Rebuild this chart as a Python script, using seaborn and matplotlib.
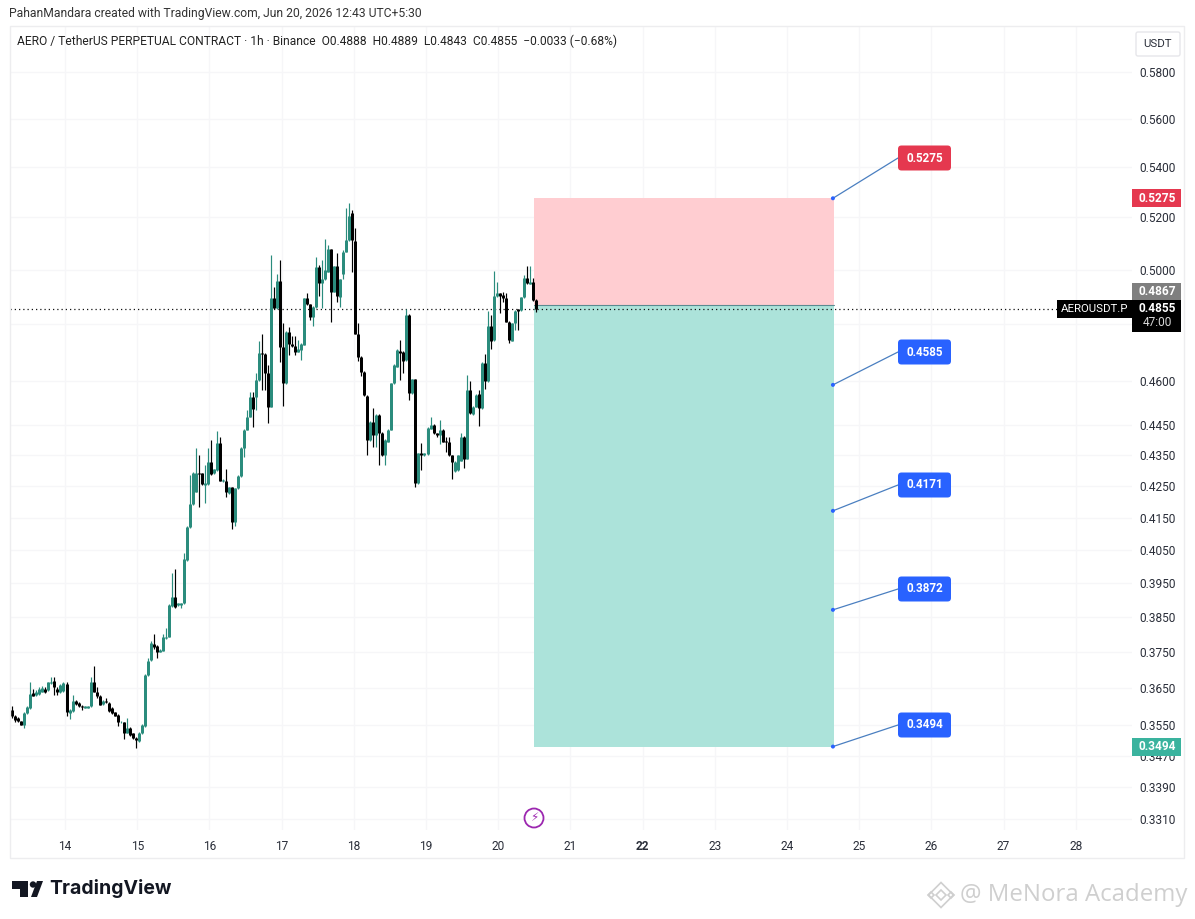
import numpy as np
import pandas as pd
import matplotlib
matplotlib.use("Agg")
import matplotlib.pyplot as plt
from matplotlib.patches import Rectangle, FancyBboxPatch, Circle, Polygon
from matplotlib.lines import Line2D
from matplotlib.transforms import IdentityTransform
import seaborn as sns

opens = [.3592,.3576,.3570,.3561,.3552,.3583,.3597,.3637,.3632,.3635,.3641,.3648,.3646,.3664,.3671,.3648,.3639,.3643,.3661,.3583,
.3588,.3617,.3610,.3603,.3598,.3598,.3601,.3668,.3641,.3630,.3608,.3617,.3610,.3597,.3585,.3579,.3558,.3558,.3531,.3543,
.3529,.3516,.3509,.3529,.3549,.3686,.3729,.3774,.3768,.3752,.3755,.3790,.3795,.3882,.3911,.3885,.3885,.3891,.4020,.4121,
.4192,.4232,.4292,.4290,.4253,.4256,.4328,.4290,.4301,.4388,.4264,.4267,.4226,.4245,.4137,.4242,.4280,.4371,.4433,.4477,
.4544,.4544,.4602,.4697,.4694,.4625,.4511,.4893,.4857,.4958,.4716,.4591,.4772,.4728,.4721,.4700,.4707,.4725,.4893,.4872,
.4826,.4860,.5008,.4949,.4963,.4992,.5076,.4918,.5013,.4897,.4985,.5067,.5112,.5216,.5110,.4764,.4682,.4631,.4547,.4399,
.4460,.4416,.4483,.4423,.4349,.4393,.4433,.4591,.4648,.4704,.4700,.4671,.4832,.4556,.4604,.4258,.4357,.4349,.4353,.4436,
.4450,.4421,.4416,.4433,.4397,.4393,.4349,.4298,.4301,.4331,.4410,.4338,.4568,.4486,.4511,.4553,.4505,.4662,.4597,.4792,
.4742,.4900,.4912,.4906,.4893,.4808,.4740,.4802,.4853,.4850,.4897,.4970,.4947,.4955,.4888]
highs = [.3601,.3578,.3572,.3563,.3585,.3601,.3668,.3648,.3645,.3655,.3657,.3655,.3669,.3682,.3682,.3655,.3662,.3668,.3668,.3594,
.3632,.3619,.3614,.3605,.3603,.3603,.3682,.3711,.3655,.3632,.3619,.3623,.3612,.3599,.3587,.3581,.3562,.3560,.3570,.3545,
.3531,.3518,.3533,.3554,.3690,.3735,.3781,.3802,.3770,.3759,.3802,.3819,.3890,.3980,.3992,.3893,.3893,.4040,.4125,.4285,
.4295,.4371,.4349,.4292,.4317,.4371,.4399,.4305,.4428,.4410,.4271,.4303,.4247,.4247,.4244,.4284,.4376,.4435,.4499,.4561,
.4561,.4625,.4740,.4764,.4697,.4654,.5055,.4936,.4985,.5036,.4804,.4774,.4788,.4757,.4757,.4742,.4730,.4895,.4912,.4874,
.4865,.5049,.5017,.5036,.5118,.5092,.5078,.5015,.5061,.4965,.5075,.5235,.5255,.5230,.5157,.4802,.4684,.4633,.4550,.4462,
.4505,.4485,.4485,.4425,.4401,.4435,.4593,.4656,.4709,.4742,.4702,.4853,.4834,.4606,.4606,.4357,.4388,.4357,.4441,.4477,
.4452,.4423,.4466,.4435,.4410,.4410,.4351,.4329,.4351,.4421,.4412,.4620,.4597,.4513,.4552,.4568,.4664,.4694,.4845,.4832,
.4995,.4955,.4914,.4915,.4912,.4810,.4804,.4850,.4855,.4899,.4979,.5013,.5013,.4967,.4889]
lows = [.3570,.3560,.3558,.3550,.3543,.3580,.3595,.3628,.3630,.3633,.3639,.3637,.3644,.3662,.3632,.3632,.3637,.3640,.3574,.3568,
.3586,.3606,.3599,.3592,.3596,.3596,.3599,.3639,.3623,.3604,.3606,.3610,.3586,.3581,.3574,.3549,.3556,.3513,.3529,.3523,
.3514,.3489,.3507,.3527,.3547,.3684,.3727,.3760,.3733,.3750,.3753,.3788,.3793,.3880,.3878,.3883,.3877,.3889,.4018,.4119,
.4190,.4230,.4182,.4254,.4195,.4254,.4286,.4288,.4299,.4265,.4262,.4216,.4224,.4116,.4124,.4240,.4278,.4344,.4431,.4475,
.4442,.4500,.4600,.4568,.4568,.4455,.4509,.4855,.4855,.4665,.4513,.4589,.4689,.4719,.4689,.4698,.4673,.4723,.4870,.4814,
.4792,.4858,.4900,.4857,.4961,.4990,.4808,.4916,.4881,.4863,.4965,.5065,.5110,.4992,.4762,.4669,.4614,.4548,.4349,.4397,
.4377,.4377,.4317,.4347,.4317,.4391,.4431,.4589,.4646,.4602,.4625,.4669,.4533,.4554,.4245,.4256,.4301,.4347,.4351,.4434,
.4419,.4410,.4385,.4391,.4360,.4347,.4271,.4296,.4299,.4329,.4306,.4336,.4486,.4484,.4509,.4444,.4503,.4570,.4595,.4709,
.4740,.4898,.4838,.4880,.4806,.4730,.4738,.4778,.4778,.4848,.4895,.4947,.4945,.4885,.4843]
closes = [.3574,.3565,.3561,.3552,.3583,.3599,.3635,.3630,.3641,.3648,.3650,.3641,.3667,.3668,.3655,.3639,.3660,.3664,.3585,.3592,
.3617,.3608,.3601,.3599,.3601,.3601,.3668,.3641,.3630,.3606,.3617,.3612,.3588,.3583,.3576,.3558,.3560,.3531,.3543,.3525,
.3516,.3511,.3531,.3552,.3686,.3727,.3777,.3764,.3752,.3757,.3795,.3795,.3886,.3911,.3880,.3891,.3891,.4022,.4121,.4192,
.4292,.4292,.4287,.4256,.4258,.4328,.4288,.4303,.4388,.4267,.4269,.4232,.4245,.4137,.4242,.4282,.4371,.4433,.4477,.4544,
.4501,.4602,.4697,.4694,.4625,.4511,.4893,.4857,.4958,.4716,.4591,.4772,.4728,.4721,.4700,.4709,.4728,.4893,.4872,.4826,
.4863,.5008,.4949,.4963,.4998,.5076,.4918,.5013,.4900,.4963,.5067,.5112,.5206,.5112,.4764,.4682,.4628,.4550,.4399,.4460,
.4416,.4483,.4423,.4349,.4399,.4433,.4591,.4654,.4707,.4697,.4669,.4832,.4556,.4604,.4258,.4355,.4349,.4355,.4439,.4450,
.4421,.4416,.4433,.4393,.4391,.4349,.4327,.4327,.4349,.4410,.4338,.4568,.4488,.4511,.4550,.4505,.4662,.4597,.4792,.4740,
.4900,.4912,.4902,.4893,.4808,.4742,.4802,.4848,.4848,.4897,.4967,.4949,.4955,.4887,.4855]

first_day = 20.5208 - 174 / 24          # day-of-month of the first hourly candle
hour = 1 / 24
day_ticks = list(range(14, 29))
price_ticks = [.58, .56, .54, .52, .50, .48, .46, .445, .435, .425, .415, .405, .395, .385, .375, .365, .355, .347, .339, .331]
price_labels = ["0.5800", "0.5600", "0.5400", "0.5200", "0.5000", "", "0.4600", "0.4450", "0.4350", "0.4250", "0.4150",
                "0.4050", "0.3950", "0.3850", "0.3750", "0.3650", "0.3550", "0.3470", "0.3390", "0.3310"]
entry_price = 0.4867
stop_price = 0.5275
final_target = 0.3494
last_close = 0.4855
box_start, box_end = 20.5, 24.65
callout_levels = [0.5275, 0.4585, 0.4171, 0.3872, 0.3494]
callout_texts = ["0.5275", "0.4585", "0.4171", "0.3872", "0.3494"]
callout_label_y = [158, 352, 485, 589, 725]
callout_colors = ["#E5384F", "#2962FF", "#2962FF", "#2962FF", "#2962FF"]

W, H = 1195, 919
TEAL, BLACK = "#2A8C7D", "#000000"
GRID = "#F6F6F8"
TXT = "#2a2e39"

sns.set_theme(style="white")
plt.rcParams["font.family"] = ["Roboto", "DejaVu Sans"]

fig = plt.figure(figsize=(W / 100, H / 100), dpi=100, facecolor="white")
L, R, T, B = 10, 1132, 26, 830
ax = fig.add_axes([L / W, 1 - B / H, (R - L) / W, (B - T) / H])
ax.set_yscale("log")

ids = np.arange(len(opens))
days = first_day + ids * hour
direction = np.where(np.array(closes) >= np.array(opens), "up", "down")
wicks = pd.DataFrame({
    "day": np.r_[days, days], "price": np.r_[lows, highs],
    "id": np.r_[ids, ids], "dir": np.r_[direction, direction]})
bodies = pd.DataFrame({
    "day": np.r_[days, days], "price": np.r_[opens, closes],
    "id": np.r_[ids, ids], "dir": np.r_[direction, direction]})
palette = {"up": TEAL, "down": BLACK}

# trade boxes
ax.fill_between([box_start, box_end], entry_price, stop_price, color="#FFCDD1", lw=0, zorder=1)
ax.fill_between([box_start, box_end], final_target, entry_price, color="#ACE3DA", lw=0, zorder=1)
ax.plot([box_start, box_end], [entry_price, entry_price], color="#5b8a90", lw=0.8, zorder=1.2)
ax.axhline(last_close, color="#111111", lw=0.9, ls=(0, (1, 2.4)), zorder=1.5)

sns.lineplot(data=wicks, x="day", y="price", units="id", hue="dir", palette=palette, estimator=None,
             errorbar=None, lw=0.85, legend=False, ax=ax, solid_capstyle="butt", zorder=3, sort=False)
sns.lineplot(data=bodies, x="day", y="price", units="id", hue="dir", palette=palette, estimator=None,
             errorbar=None, lw=2.15, legend=False, ax=ax, solid_capstyle="butt", zorder=3.2, sort=False)

ax.set_xlim(14 + (L - 65) / 72.2, 14 + (R - 65) / 72.2)
ax.set_ylim(0.58 * np.exp(-(B - 72) / 1331), 0.58 * np.exp(-(T - 72) / 1331))
ax.set_xlabel("")
ax.set_ylabel("")
for s in ax.spines.values():
    s.set_visible(False)
ax.minorticks_off()
ax.set_axisbelow(True)
ax.yaxis.tick_right()
ax.set_yticks(price_ticks, price_labels)
ax.set_xticks(day_ticks, [str(d) for d in day_ticks])
ax.tick_params(axis="y", length=0, pad=5.5, labelsize=8.6, labelcolor=TXT, which="major")
ax.tick_params(axis="x", length=0, pad=7, labelsize=8.6, labelcolor=TXT)
ax.grid(True, color=GRID, lw=1)
for lab in ax.get_xticklabels():
    if lab.get_text() == "22":
        lab.set_fontweight("bold")


def py(y):
    return H - y


def yof(price):
    return H - ax.transData.transform((ax.get_xlim()[0], price))[1]


def xof(day):
    return ax.transData.transform((day, ax.get_ylim()[0]))[0]


def rect(x0, y0, x1, y1, color, ec="none", z=5, lw=0):
    r = Rectangle((x0, py(y1)), x1 - x0, y1 - y0, facecolor=color, edgecolor=ec, lw=lw,
                  transform=IdentityTransform(), zorder=z)
    fig.add_artist(r)
    return r


def txt(x, y, s, size=8.6, color=TXT, ha="left", z=6, **kw):
    return fig.text(x / W, 1 - y / H, s, fontsize=size, color=color, ha=ha, va="center", zorder=z, **kw)


# pane frame
rect(10, 26, 1184, 858, "none", ec="#EDEDEF", z=0.5, lw=1)

# header texts
txt(9, 14, "PahanMandara created with TradingView.com, Jun 20, 2026 12:43 UTC+5:30", size=8.72, color="#333333")
txt(17, 41, "AERO / TetherUS PERPETUAL CONTRACT · 1h · Binance  O0.4888  H0.4889  L0.4843  C0.4855  \u22120.0033 (\u22120.68%)",
    size=8.63, color="#222222")

# USDT button
b = FancyBboxPatch((1136, py(56)), 44, 24, boxstyle="round,pad=0,rounding_size=2", fc="white", ec="#E6E6EA", lw=1,
                   transform=IdentityTransform(), zorder=5)
fig.add_artist(b)
txt(1158, 44, "USDT", ha="center", size=8.2)

# price tags
ys = yof(stop_price)
rect(1132, ys - 9, 1181, ys + 9, "#E5384F")
txt(1157, ys, "0.5275", color="white", ha="center", fontweight="bold")
ye = yof(last_close)
rect(1132, ye - 26, 1181, ye - 8, "#7F7F7F", z=5)
txt(1157, ye - 17, "0.4867", color="white", ha="center", fontweight="bold")
rect(1132, ye - 9, 1181, ye + 23, "#000000", z=5.2)
txt(1157, ye, "0.4855", color="white", ha="center", fontweight="bold")
txt(1157, ye + 14, "47:00", color="#D8D8D8", ha="center")
rect(1057, ye - 9, 1132, ye + 9, "#000000", z=5.2)
txt(1094.5, ye, "AEROUSDT.P", color="white", ha="center", size=8.2)
yt = yof(final_target)
rect(1132, yt - 9, 1181, yt + 9, "#3AB39E")
txt(1157, yt, "0.3494", color="white", ha="center", fontweight="bold")

# callouts
xe = xof(box_end) - 1
for lev, s, yl, c in zip(callout_levels, callout_texts, callout_label_y, callout_colors):
    yp = yof(lev)
    fig.add_artist(Line2D([xe, 898], [py(yp), py(yl)], color="#4A7FC0", lw=0.9, transform=IdentityTransform(), zorder=4))
    fig.add_artist(Circle((xe, py(yp)), 2, fc="#2962FF", ec="none", transform=IdentityTransform(), zorder=4.5))
    fig.add_artist(FancyBboxPatch((898, py(yl + 12.5)), 53, 25, boxstyle="round,pad=0,rounding_size=3.5",
                                  fc=c, ec="none", transform=IdentityTransform(), zorder=5))
    txt(924.5, yl, s, color="white", ha="center", fontweight="bold", size=8.4)

# lightning marker
fig.add_artist(Circle((534, py(818)), 9.5, fc="white", ec="#9C27B0", lw=1.3, transform=IdentityTransform(), zorder=5))
txt(534, 818, "\u26A1", size=8.5, color="#9C27B0", ha="center", family=["DejaVu Sans"])

# TradingView logo
for pts in ([(12, 881), (28, 881), (28, 897), (20, 897), (20, 889), (12, 889)],
            [(31, 897), (37, 881), (43, 881), (37, 897)]):
    fig.add_artist(Polygon([(x, py(y)) for x, y in pts], fc="#131722", ec="none",
                           transform=IdentityTransform(), zorder=5))
fig.add_artist(Circle((33, py(884.5)), 3.2, fc="#131722", ec="none", transform=IdentityTransform(), zorder=5))
txt(49, 889, "TradingView", size=14, color="#131722", fontweight="bold", family=["Inter", "Roboto"])

# watermark
wm = "#CFCFCF"
for cx, cy, r in ((941, 895, 12.5), (941, 895, 5), (931, 895, 3), (951, 895, 3)):
    fig.add_artist(Polygon([(cx - r, py(cy)), (cx, py(cy - r)), (cx + r, py(cy)), (cx, py(cy + r))], fc="none", ec=wm,
                           lw=1.2, transform=IdentityTransform(), zorder=5))
txt(960, 895, "@ MeNora Academy", size=17.3, color=wm, family=["Open Sans", "DejaVu Sans"])

fig.savefig("out.png", dpi=100, facecolor="white")
